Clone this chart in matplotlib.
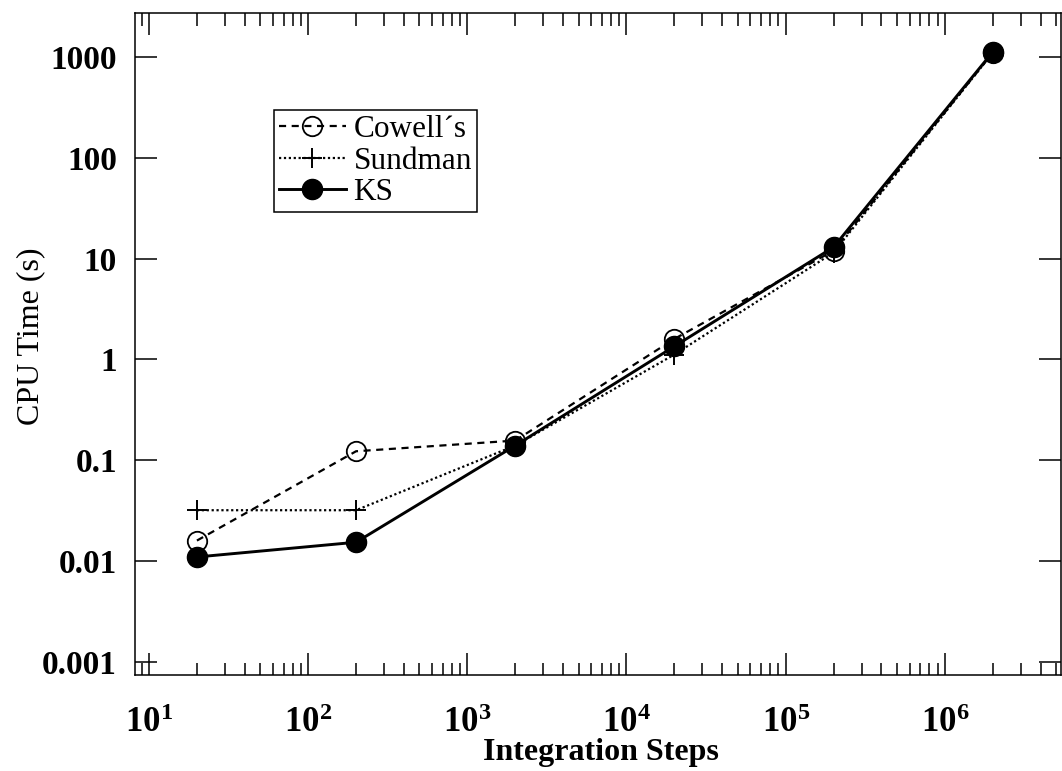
import numpy as np
import matplotlib
matplotlib.use("Agg")
import matplotlib.pyplot as plt
from matplotlib.ticker import FixedLocator, FixedFormatter, LogLocator, NullLocator

plt.rcParams['font.family'] = ['Liberation Serif', 'DejaVu Serif']
plt.rcParams['mathtext.fontset'] = 'custom'
plt.rcParams['mathtext.rm'] = 'Liberation Serif'
plt.rcParams['mathtext.bf'] = 'Liberation Serif:bold'

# data
steps = [20, 200, 2000, 20000, 200000, 2000000]
cowell = [0.016, 0.123, 0.157, 1.6, 12.0, 1100]
sundman = [0.032, 0.032, 0.14, 1.12, 11.5, 1100]
ks = [0.011, 0.0154, 0.14, 1.35, 13.0, 1120]

xticks = [1e1, 1e2, 1e3, 1e4, 1e5, 1e6]
xtick_labels = [r'$\mathbf{10^{1}}$', r'$\mathbf{10^{2}}$', r'$\mathbf{10^{3}}$',
                r'$\mathbf{10^{4}}$', r'$\mathbf{10^{5}}$', r'$\mathbf{10^{6}}$']
yticks = [0.001, 0.01, 0.1, 1, 10, 100, 1000]
ytick_labels = ['0.001', '0.01', '0.1', '1', '10', '100', '1000']

fig = plt.figure(figsize=(10.62, 7.71), dpi=100)
ax = fig.add_axes([135/1062, 96/771, 926/1062, 662/771])

ax.plot(steps, cowell, ls=(0, (3.2, 2.5)), lw=1.6, color='black', marker='o',
        ms=14, mfc='none', mec='black', mew=1.3, label='Cowell\u00b4s')
ax.plot(steps, sundman, ls=(0, (1, 1.2)), lw=1.6, color='black', marker='+',
        ms=15, mew=1.4, label='Sundman')
ax.plot(steps, ks, ls='-', lw=2.1, color='black', marker='o',
        ms=14.5, mfc='black', mec='black', label='KS')

ax.set_xscale('log')
ax.set_yscale('log')
ax.set_xlim(10**0.912, 10**6.73)
ax.set_ylim(10**-3.129, 10**3.436)

ax.xaxis.set_major_locator(FixedLocator(xticks))
ax.xaxis.set_major_formatter(FixedFormatter(xtick_labels))
ax.xaxis.set_minor_locator(LogLocator(base=10, subs=np.arange(2, 10), numticks=20))
ax.yaxis.set_major_locator(FixedLocator(yticks))
ax.yaxis.set_major_formatter(FixedFormatter(ytick_labels))
ax.yaxis.set_minor_locator(NullLocator())

ax.tick_params(which='both', direction='in', top=True, right=True, width=1.1, color='black')
ax.tick_params(which='major', length=16)
ax.tick_params(which='minor', length=9)
ax.tick_params(axis='x', which='major', pad=23, labelsize=25)
ax.tick_params(axis='y', which='major', pad=13, labelsize=24)
for lab in ax.get_yticklabels():
    lab.set_fontweight('bold')
for sp in ax.spines.values():
    sp.set_linewidth(1.1)

ax.set_xlabel('Integration Steps', fontsize=23, fontweight='bold')
ax.set_ylabel('CPU Time (s)', fontsize=23)
ax.xaxis.set_label_coords(0.503, -0.095)
ax.yaxis.set_label_coords(-0.0972, 0.512)

leg = ax.legend(loc='upper left', bbox_to_anchor=(0.150, 0.853), borderaxespad=0,
                fontsize=22.5, handlelength=2.15, handletextpad=0.25,
                labelspacing=0.08, borderpad=0.15, fancybox=False, framealpha=1)
leg.get_frame().set_edgecolor('black')
leg.get_frame().set_linewidth(1.1)

fig.savefig('out.png', dpi=100)
